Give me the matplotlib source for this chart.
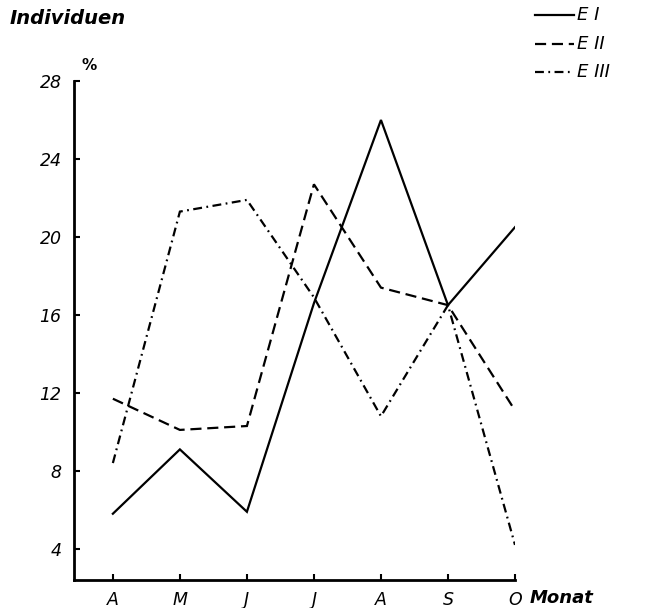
import matplotlib
matplotlib.use("Agg")
import matplotlib.pyplot as plt
from matplotlib.lines import Line2D

# Monthly share of individuals (%) for the three groups
months = ["A", "M", "J", "J", "A", "S", "O"]
e1 = [5.8, 9.1, 5.9, 16.6, 26.0, 16.5, 20.5]
e2 = [11.7, 10.1, 10.3, 22.7, 17.4, 16.5, 11.1]
e3 = [8.4, 21.3, 21.9, 16.9, 10.8, 16.5, 4.2]
y_ticks = [4, 8, 12, 16, 20, 24, 28]
series_labels = ["E I", "E II", "E III"]

plt.rcParams["font.family"] = ["DejaVu Sans"]

fig = plt.figure(figsize=(6.55, 6.08), dpi=100)
ax = fig.add_axes([74 / 655, 1 - 580 / 608, (515 - 74) / 655, (580 - 81) / 608])

x = list(range(len(months)))
lw = 1.6
dashed = (0, (5, 2.6))
dashdot = (0, (4, 2, 0.8, 2))
ax.plot(x, e1, color="black", lw=lw, linestyle="-", solid_joinstyle="miter")
ax.plot(x, e2, color="black", lw=lw, linestyle=dashed, dash_joinstyle="miter")
ax.plot(x, e3, color="black", lw=lw, linestyle=dashdot, dash_joinstyle="miter")

ax.set_xlim(-0.58, 6)
ax.set_ylim(2.4, 28)
ax.set_xticks(x)
ax.set_xticklabels(months)
ax.set_yticks(y_ticks)
ax.set_yticklabels([str(v) for v in y_ticks])

for side in ("top", "right"):
    ax.spines[side].set_visible(False)
for side in ("left", "bottom"):
    ax.spines[side].set_linewidth(2.0)
ax.tick_params(axis="both", direction="in", length=4, width=1.5,
               labelsize=12.5)
ax.tick_params(axis="y", pad=9)
ax.tick_params(axis="x", pad=8)
for lab in ax.get_xticklabels() + ax.get_yticklabels():
    lab.set_fontstyle("italic")

# Axis captions
fig.text(10 / 655, 1 - 18 / 608, "Individuen", fontsize=14, fontweight="bold",
         fontstyle="italic", ha="left", va="center")
fig.text(82 / 655, 1 - 65 / 608, "%", fontsize=11, fontweight="bold",
         ha="left", va="center")
fig.text(530 / 655, 1 - 598 / 608, "Monat", fontsize=13, fontweight="bold",
         fontstyle="italic", ha="left", va="center")

# Legend drawn as short line samples with labels
styles = ["-", dashed, dashdot]
rows = [15, 44, 72]
for ls, yy, lab in zip(styles, rows, series_labels):
    yf = 1 - yy / 608
    fig.add_artist(Line2D([535 / 655, 574 / 655], [yf, yf], color="black",
                          lw=lw, linestyle=ls, transform=fig.transFigure))
    fig.text(577 / 655, yf, lab, fontsize=13, fontstyle="italic",
             ha="left", va="center")

fig.savefig("out.png", dpi=100, facecolor="white")
